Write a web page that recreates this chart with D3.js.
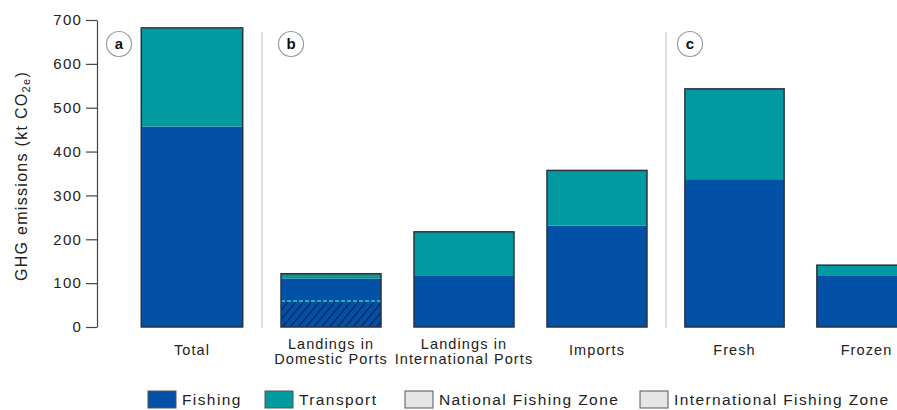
<!DOCTYPE html>
<html>
<head>
<meta charset="utf-8">
<script src="https://cdn.jsdelivr.net/npm/d3@7"></script>
<style>
  html, body { margin: 0; padding: 0; background: #fff; }
  svg { display: block; font-family: "Liberation Sans", Arial, sans-serif; }
</style>
</head>
<body>
<svg id="chart" width="897" height="410"></svg>
<script>
// ---- data ----
const categories = ["Total", "Landings in Domestic Ports", "Landings in International Ports", "Imports", "Fresh", "Frozen"];
const labelLines = [["Total"], ["Landings in", "Domestic Ports"], ["Landings in", "International Ports"], ["Imports"], ["Fresh"], ["Frozen"]];
const panelOf = ["a", "b", "b", "b", "c", "c"];
const panelNames = ["a", "b", "c"];
const fishing = [457, 110, 118, 231, 337, 118];
const transport = [225, 11.5, 99, 126, 206, 23];
const nationalZoneFishing = [0, 59, 0, 0, 0, 0];
const yTicks = [0, 100, 200, 300, 400, 500, 600, 700];
const legendItems = ["Fishing", "Transport", "National Fishing Zone", "International Fishing Zone"];

// ---- styles ----
const C_FISH = "#0351a6";
const C_TRANS = "#019aa1";
const C_STROKE = "#2a3440";

const svg = d3.select("#chart");
const defs = svg.append("defs");

const hatch = defs.append("pattern")
  .attr("id", "hatch").attr("patternUnits", "userSpaceOnUse")
  .attr("width", 6).attr("height", 6)
  .attr("patternTransform", "rotate(40)");
hatch.append("rect").attr("width", 6).attr("height", 6).attr("fill", C_FISH);
hatch.append("line").attr("x1", 0).attr("y1", 0).attr("x2", 0).attr("y2", 6)
  .attr("stroke", "#0b2350").attr("stroke-width", 2.4);

const speck = defs.append("pattern")
  .attr("id", "speck").attr("patternUnits", "userSpaceOnUse")
  .attr("width", 3).attr("height", 3);
speck.append("rect").attr("width", 3).attr("height", 3).attr("fill", "#128f93");
speck.append("rect").attr("width", 1).attr("height", 1).attr("fill", "#3aa9a6");

const y = d3.scaleLinear().domain([0, 700]).range([327, 20]);

const panelRanges = { a: [122, 262], b: [262, 666], c: [666, 935] };
const xScales = {};
panelNames.forEach(p => {
  xScales[p] = d3.scaleBand()
    .domain(categories.filter((c, i) => panelOf[i] === p))
    .range(panelRanges[p])
    .paddingInner(0.248).paddingOuter(0.143);
});
const xPos = i => xScales[panelOf[i]](categories[i]);
const bw = i => xScales[panelOf[i]].bandwidth();

// separators
svg.append("g").selectAll("line")
  .data(["b", "c"]).join("line")
  .attr("x1", d => panelRanges[d][0]).attr("x2", d => panelRanges[d][0])
  .attr("y1", 32).attr("y2", 328)
  .attr("stroke", "#d4d4d4").attr("stroke-width", 1.5);

// panel labels
const pl = svg.append("g").selectAll("g")
  .data(panelNames).join("g")
  .attr("transform", (d, i) => `translate(${[119, 291, 690][i]},44)`);
pl.append("circle").attr("r", 12.5).attr("fill", "#fff").attr("stroke", "#9a9a9a").attr("stroke-width", 1.2);
pl.append("text").text(d => d).attr("text-anchor", "middle").attr("dy", "0.36em")
  .attr("font-size", 15).attr("font-weight", "bold").attr("fill", "#111");

// bars
const bars = svg.append("g");
categories.forEach((c, i) => {
  const x0 = xPos(i), w = bw(i);
  const top = fishing[i] + transport[i];
  bars.append("rect").attr("x", x0).attr("width", w)
    .attr("y", y(fishing[i])).attr("height", y(0) - y(fishing[i]))
    .attr("fill", C_FISH);
  if (nationalZoneFishing[i] > 0) {
    bars.append("rect").attr("x", x0).attr("width", w)
      .attr("y", y(nationalZoneFishing[i])).attr("height", y(0) - y(nationalZoneFishing[i]))
      .attr("fill", "url(#hatch)");
    bars.append("line").attr("x1", x0).attr("x2", x0 + w)
      .attr("y1", y(nationalZoneFishing[i])).attr("y2", y(nationalZoneFishing[i]))
      .attr("stroke", "#19b3b8").attr("stroke-width", 2).attr("stroke-dasharray", "4,2");
  }
  bars.append("rect").attr("x", x0).attr("width", w)
    .attr("y", y(top)).attr("height", y(fishing[i]) - y(top))
    .attr("fill", nationalZoneFishing[i] > 0 ? "url(#speck)" : C_TRANS);
  bars.append("rect").attr("x", x0).attr("width", w)
    .attr("y", y(top)).attr("height", y(0) - y(top))
    .attr("fill", "none").attr("stroke", C_STROKE).attr("stroke-width", 1.5);
});

// category labels
const cl = svg.append("g").attr("font-size", 14.5).attr("fill", "#222").attr("letter-spacing", 1.1);
categories.forEach((c, i) => {
  const cx = xPos(i) + bw(i) / 2;
  const lines = labelLines[i];
  const y0 = lines.length === 1 ? 355 : 349;
  lines.forEach((t, k) => {
    cl.append("text").attr("x", cx).attr("y", y0 + k * 14.5)
      .attr("text-anchor", "middle").text(t);
  });
});

// y axis
const yAxis = d3.axisLeft(y).tickValues(yTicks).tickSize(11).tickSizeOuter(0).tickPadding(4);
const ga = svg.append("g").attr("transform", "translate(97,0)").call(yAxis);
ga.select(".domain").attr("stroke", "#444").attr("stroke-width", 1.2);
ga.selectAll(".tick line").attr("stroke", "#444").attr("stroke-width", 1.2);
ga.selectAll(".tick text").attr("font-size", 15).attr("fill", "#222")
  .attr("font-family", "Liberation Sans, Arial, sans-serif").attr("letter-spacing", 1.2);

// y title
const yt = svg.append("text")
  .attr("transform", "translate(27,176) rotate(-90)")
  .attr("text-anchor", "middle").attr("font-size", 16).attr("fill", "#222").attr("letter-spacing", 1.3);
yt.append("tspan").text("GHG emissions (kt CO");
yt.append("tspan").text("2e").attr("font-size", 11).attr("dy", 3);
yt.append("tspan").text(")").attr("dy", -3);

// legend
const legendX = [148, 265, 405, 640];
const legendFill = [C_FISH, C_TRANS, "#e6e6e6", "#e6e6e6"];
const lg = svg.append("g").selectAll("g").data(legendItems).join("g")
  .attr("transform", (d, i) => `translate(${legendX[i]},391)`);
lg.append("rect").attr("width", 28).attr("height", 17)
  .attr("fill", (d, i) => legendFill[i]).attr("stroke", "#555").attr("stroke-width", 1);
lg.append("text").attr("x", 34).attr("y", 14).attr("font-size", 15.5).attr("fill", "#222")
  .attr("letter-spacing", 1.4).text(d => d);
</script>
</body>
</html>
